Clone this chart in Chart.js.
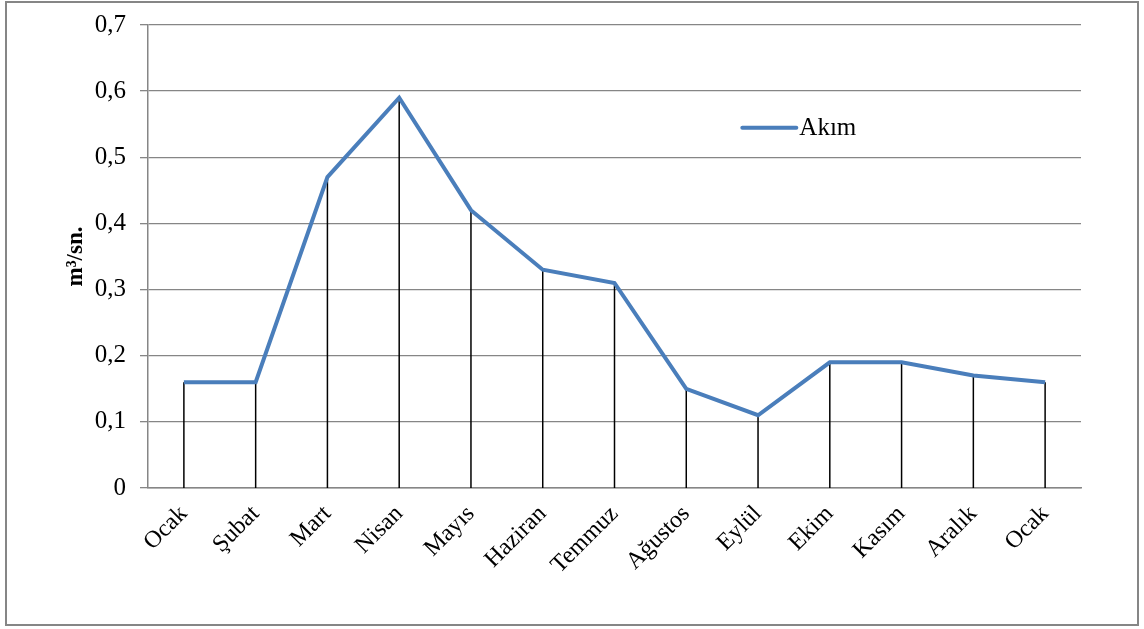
<!DOCTYPE html>
<html>
<head>
<meta charset="utf-8">
<script src="https://cdn.jsdelivr.net/npm/chart.js@4"></script>
<style>
  html, body { margin: 0; padding: 0; background: #fff; }
  #wrap { width: 1144px; height: 629px; position: relative; }
</style>
</head>
<body>
<div id="wrap"><canvas id="chart" width="1144" height="629"></canvas></div>
<script>
// months (the series wraps back to Ocak at the end)
const months = ['Ocak', 'Şubat', 'Mart', 'Nisan', 'Mayıs', 'Haziran', 'Temmuz',
  'Ağustos', 'Eylül', 'Ekim', 'Kasım', 'Aralık', 'Ocak']
// flow, m3/sn
const akim = [0.16, 0.16, 0.47, 0.59, 0.42, 0.33, 0.31, 0.15, 0.11, 0.19, 0.19, 0.17, 0.16]
const seriesName = 'Akım'
const yTitle = 'm³/sn.'

const serif = "'Liberation Serif', 'Times New Roman', serif"
const gray = '#868686'
const blue = '#4A7EBB'

// outer frame round the whole chart
const framePlugin = {
  id: 'frame',
  beforeDraw (chart) {
    const ctx = chart.ctx
    ctx.save()
    ctx.fillStyle = '#fff'
    ctx.fillRect(0, 0, chart.width, chart.height)
    ctx.strokeStyle = gray
    ctx.lineWidth = 2
    ctx.strokeRect(6, 2, chart.width - 12, chart.height - 6)
    ctx.restore()
  }
}

// black drop lines from every point down to zero
const dropLines = {
  id: 'dropLines',
  beforeDatasetsDraw (chart) {
    const ctx = chart.ctx
    const meta = chart.getDatasetMeta(0)
    const y0 = chart.scales.y.getPixelForValue(0)
    ctx.save()
    ctx.strokeStyle = '#000'
    ctx.lineWidth = 1.5
    meta.data.forEach(p => {
      ctx.beginPath()
      ctx.moveTo(p.x, p.y)
      ctx.lineTo(p.x, y0)
      ctx.stroke()
    })
    ctx.restore()
  }
}

// legend sits inside the plot, upper right
const innerLegend = {
  id: 'innerLegend',
  afterDraw (chart) {
    const a = chart.chartArea
    const ctx = chart.ctx
    const x = a.left + (a.right - a.left) * 0.637
    const y = a.top + (a.bottom - a.top) * 0.222
    ctx.save()
    ctx.strokeStyle = blue
    ctx.lineWidth = 4
    ctx.lineCap = 'round'
    ctx.beginPath()
    ctx.moveTo(x, y)
    ctx.lineTo(x + 54, y)
    ctx.stroke()
    ctx.fillStyle = '#000'
    ctx.font = '25px ' + serif
    ctx.textBaseline = 'middle'
    ctx.fillText(chart.data.datasets[0].label, x + 57, y + 1)
    ctx.restore()
  }
}

new Chart(document.getElementById('chart'), {
  type: 'line',
  data: {
    labels: months,
    datasets: [{
      label: seriesName,
      data: akim,
      borderColor: blue,
      borderWidth: 4,
      pointRadius: 0,
      tension: 0,
      fill: false
    }]
  },
  options: {
    responsive: false,
    animation: false,
    layout: { padding: { left: 62, right: 63, top: 25, bottom: 0 } },
    plugins: {
      legend: { display: false },
      tooltip: { enabled: false }
    },
    scales: {
      x: {
        offset: true,
        grid: { display: false, offset: true },
        border: { display: true, color: gray, width: 1.5 },
        ticks: {
          color: '#000',
          font: { family: serif, size: 24 },
          minRotation: 45,
          maxRotation: 45,
          padding: 4
        },
        afterFit (scale) { scale.height = 141 }
      },
      y: {
        min: 0,
        max: 0.7,
        grid: { color: gray, lineWidth: 1.3, tickLength: 8, drawTicks: true },
        border: { display: true, color: gray, width: 1.5 },
        ticks: {
          stepSize: 0.1,
          color: '#000',
          padding: 14,
          font: { family: serif, size: 25 },
          callback: v => (Math.round(v * 10) / 10).toString().replace('.', ',')
        },
        title: {
          display: true,
          text: yTitle,
          color: '#000',
          font: { family: serif, size: 23, weight: 'bold' },
          padding: { top: 0, bottom: 0 }
        },
        afterFit (scale) {
          scale.width = 86
          scale.paddingTop = 0
          scale.paddingBottom = 0
        }
      }
    }
  },
  plugins: [framePlugin, dropLines, innerLegend]
})
</script>
</body>
</html>
